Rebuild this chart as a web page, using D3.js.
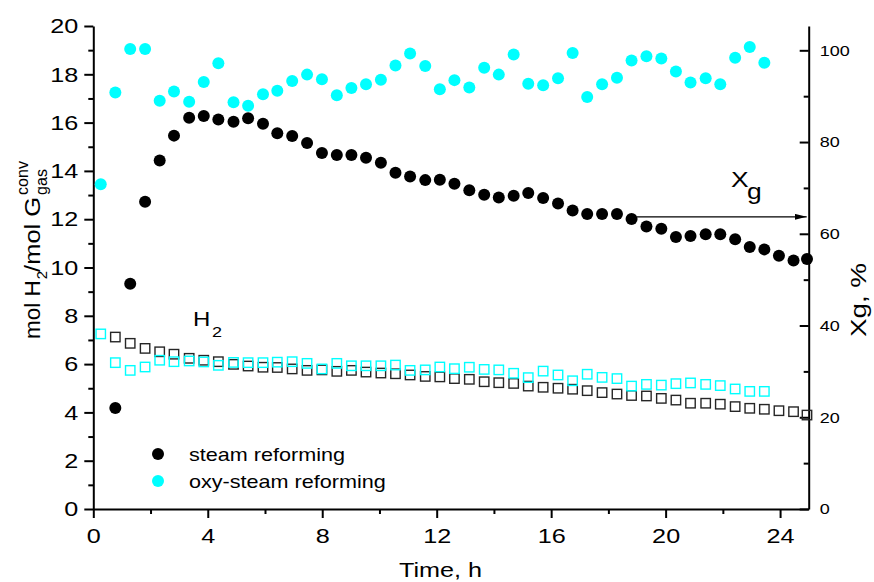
<!DOCTYPE html>
<html>
<head>
<meta charset="utf-8">
<script src="https://cdn.jsdelivr.net/npm/d3@7"></script>
<style>
  html, body { margin: 0; padding: 0; background: #fff; }
  svg { display: block; font-family: "Liberation Sans", Arial, sans-serif; }
</style>
</head>
<body>
<svg id="chart" width="874" height="582"></svg>
<script>
// Sampling times, h
const time = [0.26, 0.77, 1.29, 1.81, 2.32, 2.82, 3.35, 3.86, 4.37, 4.90, 5.41, 5.93, 6.43, 6.95,
  7.47, 7.99, 8.51, 9.02, 9.53, 10.05, 10.56, 11.07, 11.60, 12.11, 12.62, 13.14, 13.66, 14.17,
  14.69, 15.20, 15.72, 16.24, 16.75, 17.26, 17.78, 18.30, 18.81, 19.33, 19.85, 20.36, 20.87,
  21.40, 21.91, 22.43, 22.94, 23.45, 23.96, 24.47, 24.94];

// Steam reforming is sampled from the 2nd point to the end, oxy-steam from the start to 23.45 h
const steamTime = time.slice(1);
const oxyTime = time.slice(0, 46);

// Gas conversion Xg, % (right axis)
const xgSteam = [22.0, 49.1, 67.0, 76.0, 81.4, 85.3, 85.7, 84.9, 84.4, 85.2, 84.0, 81.9, 81.3,
  79.8, 77.6, 77.2, 77.2, 76.6, 75.5, 73.3, 72.5, 71.7, 71.8, 70.9, 69.5, 68.5, 67.9, 68.3, 68.9,
  67.8, 66.6, 65.1, 64.3, 64.3, 64.3, 63.2, 61.6, 61.1, 59.3, 59.5, 59.9, 59.9, 58.8, 57.1, 56.6,
  55.2, 54.2, 54.5];
const xgOxy = [70.8, 90.8, 100.3, 100.3, 89.0, 91.0, 88.8, 93.1, 97.2, 88.7, 87.9, 90.4, 91.2,
  93.3, 94.7, 93.7, 90.2, 91.8, 92.6, 93.6, 96.7, 99.3, 96.6, 91.5, 93.5, 91.9, 96.2, 94.7, 99.1,
  92.7, 92.4, 93.9, 99.4, 89.8, 92.6, 94.0, 97.8, 98.7, 98.2, 95.4, 93.0, 93.9, 92.6, 98.4, 100.7,
  97.3];

// H2 yield, mol H2 / mol converted gas (left axis)
const h2Steam = [7.12, 6.86, 6.65, 6.51, 6.41, 6.24, 6.16, 6.10, 5.99, 5.92, 5.87, 5.86, 5.80,
  5.74, 5.76, 5.70, 5.74, 5.67, 5.63, 5.60, 5.55, 5.49, 5.47, 5.40, 5.37, 5.27, 5.23, 5.20, 5.09,
  5.04, 5.00, 4.96, 4.90, 4.82, 4.76, 4.70, 4.68, 4.58, 4.51, 4.38, 4.38, 4.34, 4.24, 4.17, 4.13,
  4.07, 4.03, 3.89];
const h2Oxy = [7.25, 6.06, 5.74, 5.88, 6.16, 6.10, 6.13, 6.09, 5.95, 6.07, 6.06, 6.06, 6.08,
  6.10, 6.03, 5.80, 6.03, 5.93, 5.93, 5.93, 5.96, 5.74, 5.76, 5.88, 5.81, 5.87, 5.78, 5.76, 5.62,
  5.44, 5.71, 5.55, 5.31, 5.58, 5.45, 5.40, 5.09, 5.16, 5.13, 5.19, 5.22, 5.16, 5.11, 4.97, 4.87,
  4.87];

// Axis ticks
const leftTicks = [0, 2, 4, 6, 8, 10, 12, 14, 16, 18, 20];
const leftMinor = [1, 3, 5, 7, 9, 11, 13, 15, 17, 19];
const rightTicks = [0, 20, 40, 60, 80, 100];
const rightMinor = [10, 30, 50, 70, 90];
const timeTicks = [0, 4, 8, 12, 16, 20, 24];
const timeMinor = [2, 6, 10, 14, 18, 22];

const seriesNames = ["steam reforming", "oxy-steam reforming"];
const seriesColors = ["#000000", "#00ffff"];

// Xg arrow annotation: from time, to time, at Xg %
const arrowFrom = 19.0, arrowTo = 24.93, arrowLevel = 63.7;

// ---- layout ----
const K = 1.2;                      // horizontal glyph stretch
const L = 93.3, R = 808.7, T = 26, B = 509;
const svg = d3.select("#chart");

const x = d3.scaleLinear().domain([0, 25]).range([L, R]);
const yL = d3.scaleLinear().domain([0, 20]).range([B, T]);
const yR = d3.scaleLinear().domain([0, 105.3]).range([B, T]);

function stretchText(sel) {
  sel.each(function () {
    const t = d3.select(this);
    const x0 = +t.attr("x") || 0;
    t.attr("x", x0 / K).attr("transform", `scale(${K},1)`);
  });
}
function styleAxis(g) {
  g.select(".domain").attr("stroke", "#000").attr("stroke-width", 2);
  g.selectAll(".tick line").attr("stroke", "#000").attr("stroke-width", 2);
}

// left axis
const gL = svg.append("g").attr("transform", `translate(${L},0)`)
  .call(d3.axisLeft(yL).tickValues(leftTicks).tickSize(9).tickSizeOuter(0).tickPadding(6)
    .tickFormat(d3.format("d")));
styleAxis(gL);
gL.selectAll("text").attr("font-size", 21).attr("fill", "#000")
  .attr("font-family", "Liberation Sans, Arial, sans-serif").call(stretchText);
const gLm = svg.append("g").attr("transform", `translate(${L},0)`)
  .call(d3.axisLeft(yL).tickValues(leftMinor).tickSize(5).tickSizeOuter(0).tickFormat(""));
styleAxis(gLm);
gLm.select(".domain").remove();

// bottom axis
const gB = svg.append("g").attr("transform", `translate(0,${B})`)
  .call(d3.axisBottom(x).tickValues(timeTicks).tickSize(9).tickSizeOuter(0).tickPadding(10)
    .tickFormat(d3.format("d")));
styleAxis(gB);
gB.selectAll("text").attr("font-size", 21).attr("fill", "#000")
  .attr("font-family", "Liberation Sans, Arial, sans-serif").call(stretchText);
const gBm = svg.append("g").attr("transform", `translate(0,${B})`)
  .call(d3.axisBottom(x).tickValues(timeMinor).tickSize(5).tickSizeOuter(0).tickFormat(""));
styleAxis(gBm);
gBm.select(".domain").remove();

// right axis, ticks pointing inward
const gR = svg.append("g").attr("transform", `translate(${R},0)`)
  .call(d3.axisRight(yR).tickValues(rightTicks).tickSizeInner(-9).tickSizeOuter(0).tickPadding(11)
    .tickFormat(d3.format("d")));
styleAxis(gR);
gR.selectAll("text").attr("font-size", 15).attr("fill", "#000").attr("x", 11)
  .attr("font-family", "Liberation Sans, Arial, sans-serif").call(stretchText);
const gRm = svg.append("g").attr("transform", `translate(${R},0)`)
  .call(d3.axisRight(yR).tickValues(rightMinor).tickSizeInner(-5).tickSizeOuter(0).tickFormat(""));
styleAxis(gRm);
gRm.select(".domain").remove();

// ---- marks ----
const side = 9.4;
const plot = svg.append("g");
function squares(ts, vs, color) {
  plot.append("g").selectAll("rect").data(vs).join("rect")
    .attr("x", (d, i) => x(ts[i]) - side / 2)
    .attr("y", d => yL(d) - side / 2)
    .attr("width", side).attr("height", side)
    .attr("fill", "none").attr("stroke", color).attr("stroke-width", 1.4);
}
function dots(ts, vs, color) {
  plot.append("g").selectAll("circle").data(vs).join("circle")
    .attr("cx", (d, i) => x(ts[i]))
    .attr("cy", d => yR(d))
    .attr("r", 6).attr("fill", color);
}
squares(steamTime, h2Steam, "#262626");
squares(oxyTime, h2Oxy, seriesColors[1]);
dots(steamTime, xgSteam, seriesColors[0]);
dots(oxyTime, xgOxy, seriesColors[1]);

// ---- Xg arrow ----
svg.append("defs").append("marker").attr("id", "head")
  .attr("viewBox", "0 0 12 6").attr("refX", 12).attr("refY", 3)
  .attr("markerWidth", 12).attr("markerHeight", 6).attr("markerUnits", "userSpaceOnUse")
  .attr("orient", "auto")
  .append("path").attr("d", "M0,0 L12,3 L0,6 Z").attr("fill", "#000");
svg.append("line")
  .attr("x1", x(arrowFrom)).attr("x2", x(arrowTo))
  .attr("y1", yR(arrowLevel)).attr("y2", yR(arrowLevel))
  .attr("stroke", "#000").attr("stroke-width", 1.2).attr("marker-end", "url(#head)");

// ---- text helpers ----
function label(xp, yp, size, str, anchor) {
  return svg.append("g").attr("transform", `translate(${xp},${yp}) scale(${K},1)`)
    .append("text").attr("font-size", size).attr("text-anchor", anchor || "start")
    .attr("fill", "#000").text(str);
}

// Xg annotation
label(731, 187, 22, "X");
label(747, 199, 22, "g");

// H2 annotation
label(193, 326, 20, "H");
label(212, 337, 15, "2");

// x axis title
label(440.5, 577, 21, "Time, h", "middle");

// legend
const legY = [454, 481];
seriesNames.forEach((name, i) => {
  svg.append("circle").attr("cx", 158).attr("cy", legY[i]).attr("r", 6).attr("fill", seriesColors[i]);
  label(189, legY[i] + 7, 18, name);
});

// left axis title: mol H2/mol G(gas, conv)
const yt = svg.append("g").attr("transform", "translate(40,339) rotate(-90)");
function piece(px, py, size, str, len) {
  const t = yt.append("text").attr("x", px).attr("y", py).attr("font-size", size)
    .attr("fill", "#000").text(str);
  if (len) t.attr("textLength", len).attr("lengthAdjust", "spacingAndGlyphs");
  return len || t.node().getComputedTextLength();
}
let cx = 0;
cx += piece(cx, 0, 22.5, "mol H");
cx += piece(cx + 1, 7, 15, "2");
cx += piece(cx, 0, 22.5, "/mol G", 75) + 2;
piece(cx, 7, 16, "gas");
piece(cx, -12, 16, "conv");

// right axis title
svg.append("g").attr("transform", "translate(866,337) rotate(-90)")
  .append("text").attr("font-size", 22).attr("fill", "#000")
  .attr("textLength", 74).attr("lengthAdjust", "spacingAndGlyphs").text("Xg, %");
</script>
</body>
</html>
